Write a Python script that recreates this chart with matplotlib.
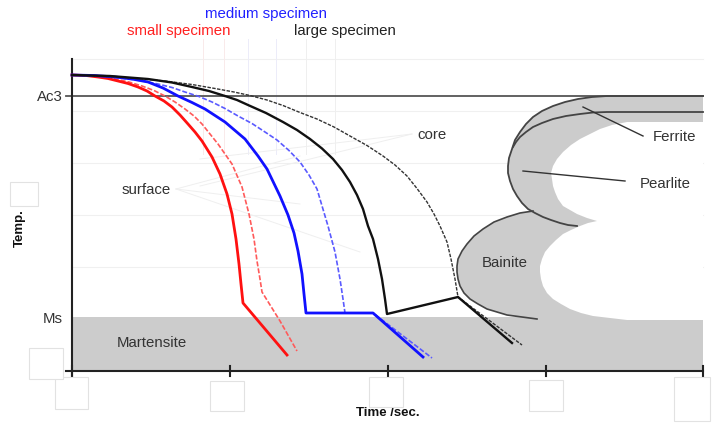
import matplotlib
matplotlib.use("Agg")
import matplotlib.pyplot as plt
from matplotlib.patches import Rectangle

plt.rcParams['font.family'] = ['Liberation Sans', 'DejaVu Sans']

# temperatures and times in arbitrary chart units (time origin at 0, temp origin at axis)
AC3 = 275
MS = 54
t_max = 631
time_ticks = [0, 158, 316, 474, 631]
T_top = 312

# cooling curves: (time, temperature)
small_surface_t = [0, 14, 26, 36, 46, 56, 66, 75, 83, 92, 100, 108, 116, 123, 130, 140, 148, 155,
                   160, 164, 167, 169, 171, 193, 215]
small_surface_T = [296, 295.5, 294, 292.5, 290, 287.5, 284, 280, 275, 270, 264, 256, 247, 239,
                   230, 214, 197, 177, 157, 132, 107, 87, 68, 42, 16]
small_core_t = [0, 22, 43, 57, 70, 82, 93, 103, 113, 122, 130, 146, 160, 170, 177, 182, 185,
                188, 190, 208, 225]
small_core_T = [296, 295, 292, 289, 285, 280.5, 275, 269, 262, 255, 247, 227, 207, 184, 157,
                132, 110, 92, 79, 50, 20]

medium_surface_t = [0, 22, 43, 60, 76, 91, 106, 120, 133, 153, 173, 186, 195, 208, 216, 222,
                    226, 230, 232, 234, 301, 351]
medium_surface_T = [296, 295.5, 294, 292, 289, 283, 275, 268.5, 262, 249, 232, 215, 202, 175,
                    156, 138, 120, 97, 77, 58, 58, 14]
medium_core_t = [0, 24, 48, 68, 86, 100, 113, 127, 140, 153, 166, 180, 193, 205, 217, 228,
                 237, 245, 256, 263, 268, 271, 273, 301, 360]
medium_core_T = [296, 295.5, 293, 290.5, 287, 283.5, 279, 274.5, 269, 262.5, 255, 247.5, 239,
                 231, 220.5, 209, 196, 182, 145, 119, 92, 72, 58, 58, 13]

large_surface_t = [0, 38, 76, 100, 120, 137, 153, 165, 176, 194, 211, 225, 238, 250, 261, 270,
                   278, 285, 291, 296, 301, 306, 310, 313, 315, 386, 440]
large_surface_T = [296, 295, 292, 288.5, 284, 280, 275, 271, 266, 258, 249, 241, 232, 222.5,
                   212, 201, 189, 176, 162, 145, 132, 112, 92, 72, 57, 74, 28]
large_core_t = [0, 46, 93, 120, 143, 162, 178, 195, 211, 228, 245, 262, 278, 295, 311, 323,
                335, 345, 355, 362, 368, 375, 379, 383, 386, 450]
large_core_T = [296, 294, 290, 286.5, 282.5, 279, 275.5, 271, 265.5, 258.5, 252, 244, 235,
                225.5, 215, 206, 195, 182.5, 169, 157, 145, 129, 112, 92, 74, 26]

# transformation boundaries
pearlite_t = [631, 535, 520, 506, 493, 481, 470, 461, 454, 448, 443, 440, 437, 436, 436,
              438, 441, 445, 450, 456, 463, 471, 479, 488, 496, 505]
pearlite_T = [275, 275, 274, 272, 269, 265, 260, 254, 247, 239, 231, 222, 213, 205, 198,
              190, 182, 175, 168, 162, 158, 154, 151, 148, 146, 145]
ferrite_t = [631, 535, 521, 508, 494, 481, 470, 461, 454, 448, 444, 441]
ferrite_T = [259, 259, 258.5, 257, 255, 252, 248, 244, 239, 234, 229, 224]
bainite_t = [461, 448, 435, 422, 411, 402, 395, 390, 386, 385, 385, 386, 388, 392, 398,
             406, 415, 425, 435, 450, 465]
bainite_T = [160, 158, 154, 149, 142, 135, 127, 120, 112, 105, 99, 92, 85, 78, 72,
             67, 62, 59, 56, 54, 52]
# untransformed pocket inside the C-curves
pocket_t = [631, 555, 540, 528, 518, 508, 499, 491, 485, 481, 479, 480, 481, 483, 486,
            491, 498, 505, 515, 525, 516, 508, 499, 491, 484, 478, 473, 470, 468, 468,
            469, 471, 475, 481, 489, 498, 509, 521, 538, 555, 631]
pocket_T = [249, 249, 246, 242, 237, 232, 226, 219, 212, 205, 198, 192, 185, 179, 172,
            165, 161, 157, 153, 150, 148, 145, 141, 137, 131, 125, 119, 112, 105, 99,
            92, 85, 78, 72, 67, 62, 58, 55, 53, 51, 51]

# faint guide lines
grid_T = [312, 260, 208, 156, 104]
guide_t = [131, 152, 176, 204, 234, 263]
surface_leaders = [(228, 215), (228, 167), (288, 119)]
core_leaders = [(128, 212), (128, 185)]

# empty tick-label boxes (t0, t1, T0, T1)
label_boxes = [(-17, 16, -38, -6), (138, 172, -40, -10), (297, 331, -36, -6),
               (457, 491, -40, -9), (602, 638, -50, -6), (-43, -9, -8, 23),
               (-62, -34, 165, 189)]

GRAY = '#cccccc'
TXT = '#333333'

fig = plt.figure(figsize=(7.12, 4.27), dpi=100)
ax = fig.add_axes([0, 0, 1, 1])
ax.set_xlim(-72, 640)
ax.set_ylim(-55, 372)
ax.axis('off')

for T in grid_T:
    ax.plot([0, t_max], [T, T], color='#f0f0f0', lw=0.8, zorder=0)
for i, t in enumerate(guide_t):
    c = ['#f9eaea', '#f9eaea', '#ececf9', '#ececf9', '#efefef', '#efefef'][i]
    ax.plot([t, t], [332, 217], color=c, lw=0.7, zorder=0)
for t, T in surface_leaders:
    ax.plot([104, t], [182, T], color='#efefef', lw=0.7, zorder=0)
for t, T in core_leaders:
    ax.plot([340, t], [237, T], color='#efefef', lw=0.7, zorder=0)

# phase fields
ax.add_patch(Rectangle((0, 0), t_max, MS, facecolor=GRAY, edgecolor='none', zorder=1))
field_t = pearlite_t[:20] + bainite_t + [t_max, t_max]
field_T = pearlite_T[:20] + bainite_T + [40, AC3]
ax.fill(field_t, field_T, color=GRAY, lw=0, zorder=1)
ax.fill(pocket_t, pocket_T, color='white', lw=0, zorder=1.5)

ax.plot([-6, t_max], [AC3, AC3], color='#555555', lw=1.3, zorder=2)
ax.plot(pearlite_t, pearlite_T, color='#444444', lw=1.3, zorder=2)
ax.plot(ferrite_t, ferrite_T, color='#444444', lw=1.3, zorder=2)
ax.plot(bainite_t, bainite_T, color='#444444', lw=1.2, zorder=2)
ax.plot([511, 571], [264, 235], color='#333333', lw=1.0, zorder=3)
ax.plot([451, 553], [200, 190], color='#333333', lw=1.0, zorder=3)

# axes
ax.plot([0, 0], [-5, T_top], color='#222222', lw=1.5, zorder=4)
ax.plot([-6, t_max], [0, 0], color='#222222', lw=1.5, zorder=4)
for t in time_ticks:
    ax.plot([t, t], [-5, 5], color='#222222', lw=1.5, zorder=4)

# cooling curves
kw = dict(solid_joinstyle='round', dash_joinstyle='round', zorder=5)
ax.plot(small_core_t, small_core_T, color='#ff5a5a', lw=1.2, ls=(0, (3, 1.2)), **kw)
ax.plot(small_surface_t, small_surface_T, color='#ff1111', lw=2.0, **kw)
ax.plot(medium_core_t, medium_core_T, color='#5a5aff', lw=1.2, ls=(0, (3, 1.2)), **kw)
ax.plot(medium_surface_t, medium_surface_T, color='#1111ff', lw=2.0, **kw)
ax.plot(large_core_t, large_core_T, color='#333333', lw=1.0, ls=(0, (2.5, 1)), **kw)
ax.plot(large_surface_t, large_surface_T, color='#111111', lw=1.7, **kw)

for box in label_boxes:
    ax.add_patch(Rectangle((box[0], box[2]), box[1] - box[0], box[3] - box[2],
                           facecolor='white', edgecolor='#e2e2e2', lw=0.8, zorder=6))

fs = 10.8
ax.text(-9, AC3, 'Ac3', ha='right', va='center', fontsize=fs, color=TXT)
ax.text(-9, 53, 'Ms', ha='right', va='center', fontsize=fs, color=TXT)
ax.text(-52, 144, 'Temp.', rotation=90, ha='center', va='center', fontsize=9.5,
        fontweight='bold', color='#111111')
ax.text(316, -41, 'Time /sec.', ha='center', va='center', fontsize=9.5,
        fontweight='bold', color='#111111')
ax.text(107, 341, 'small specimen', ha='center', va='center', fontsize=fs, color='#ff2020')
ax.text(194, 358, 'medium specimen', ha='center', va='center', fontsize=fs, color='#2020ff')
ax.text(273, 341, 'large specimen', ha='center', va='center', fontsize=fs, color='#222222')
ax.text(50, 182, 'surface', ha='left', va='center', fontsize=fs, color=TXT)
ax.text(345, 237, 'core', ha='left', va='center', fontsize=fs, color=TXT)
ax.text(581, 235, 'Ferrite', ha='left', va='center', fontsize=fs, color=TXT)
ax.text(568, 188, 'Pearlite', ha='left', va='center', fontsize=fs, color=TXT)
ax.text(433, 109, 'Bainite', ha='center', va='center', fontsize=fs, color=TXT, zorder=7)
ax.text(80, 29, 'Martensite', ha='center', va='center', fontsize=fs, color=TXT, zorder=7)

fig.savefig('out.png', dpi=100)
